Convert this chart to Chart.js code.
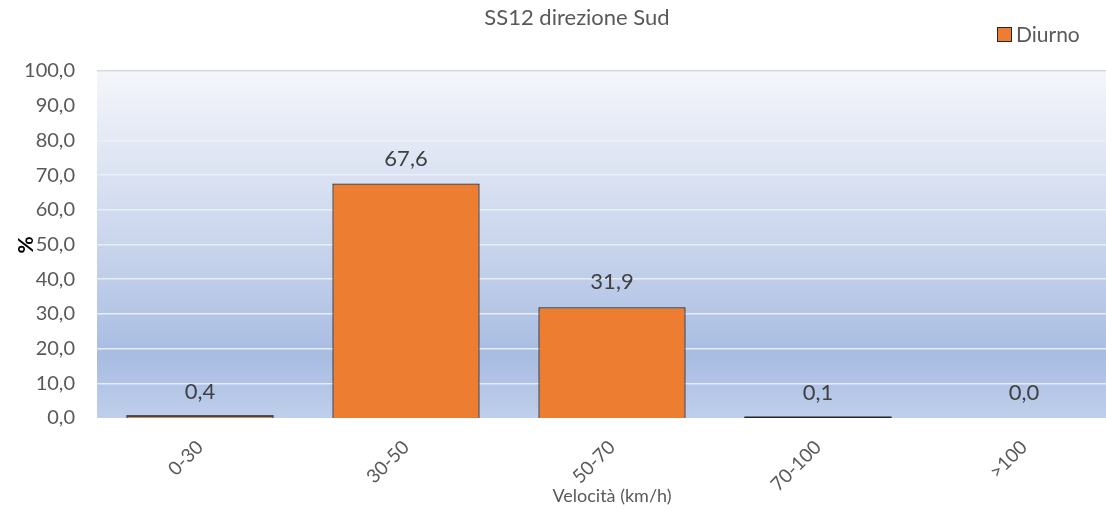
<!DOCTYPE html>
<html>
<head>
<meta charset="utf-8">
<script src="https://cdn.jsdelivr.net/npm/chart.js@4/dist/chart.umd.min.js"></script>
<style>
  html, body { margin: 0; padding: 0; background: #fff; overflow: hidden; }
  #wrap { width: 1106px; height: 511px; overflow: hidden; }
</style>
</head>
<body>
<div id="wrap"><canvas id="c" width="1128" height="511"></canvas></div>
<script>
'use strict';
const categories = ['0-30', '30-50', '50-70', '70-100', '>100'];
const diurno = [0.4, 67.6, 31.9, 0.1, 0.0];
const yTicks = [0, 10, 20, 30, 40, 50, 60, 70, 80, 90, 100];
const titleText = 'SS12 direzione Sud';
const seriesName = 'Diurno';
const FONT = 'Lato, "Open Sans", sans-serif';

function fmt(v) { return v.toFixed(1).replace('.', ','); }

// gradient plot background, drawn before the grid
const plotBg = {
  id: 'plotBg',
  beforeDraw(chart) {
    const { ctx, chartArea: a } = chart;
    const g = ctx.createLinearGradient(0, a.top, 0, a.bottom);
    g.addColorStop(0, '#f5f6fb');
    g.addColorStop(0.5, '#c9d5ec');
    g.addColorStop(0.82, '#a8bce2');
    g.addColorStop(1, '#bfcfeb');
    ctx.save();
    ctx.fillStyle = g;
    ctx.fillRect(a.left, a.top, a.right - a.left, a.bottom - a.top);
    ctx.restore();
  }
};

// title, legend, y title, value labels, tops of thin bars
const extras = {
  id: 'extras',
  afterDraw(chart) {
    const { ctx } = chart;
    ctx.save();
    ctx.textBaseline = 'middle';
    ctx.fillStyle = '#595959';
    ctx.font = '22px ' + FONT;
    ctx.textAlign = 'center';
    ctx.fillText(titleText, 577, 18);

    // legend
    ctx.fillStyle = '#ed7d31';
    ctx.strokeStyle = '#262626';
    ctx.lineWidth = 1;
    ctx.fillRect(997.5, 27.5, 14, 14);
    ctx.strokeRect(997.5, 27.5, 14, 14);
    ctx.fillStyle = '#595959';
    ctx.textAlign = 'left';
    ctx.font = '21px ' + FONT;
    ctx.fillText(seriesName, 1016, 35);

    // y axis title
    ctx.save();
    ctx.translate(26, 245);
    ctx.rotate(-Math.PI / 2);
    ctx.fillStyle = '#000';
    ctx.font = 'bold 21px ' + FONT;
    ctx.textAlign = 'center';
    ctx.fillText('%', 0, 0);
    ctx.restore();

    const meta = chart.getDatasetMeta(0);
    // dark top edge on bars too thin for their border
    ctx.strokeStyle = '#262626';
    ctx.lineWidth = 1.5;
    meta.data.forEach((bar, i) => {
      if (diurno[i] > 0 && diurno[i] < 1) {
        ctx.beginPath();
        ctx.moveTo(bar.x - bar.width / 2, bar.y - 0.5);
        ctx.lineTo(bar.x + bar.width / 2, bar.y - 0.5);
        ctx.stroke();
      }
    });

    // data labels
    ctx.fillStyle = '#404040';
    ctx.font = '22px ' + FONT;
    ctx.textAlign = 'center';
    meta.data.forEach((bar, i) => {
      ctx.fillText(fmt(diurno[i]), bar.x, bar.y - 25);
    });
    ctx.restore();
  }
};

new Chart(document.getElementById('c'), {
  type: 'bar',
  data: {
    labels: categories,
    datasets: [{
      label: seriesName,
      data: diurno,
      backgroundColor: '#ed7d31',
      borderColor: '#262626',
      borderWidth: 1.3,
      categoryPercentage: 0.715,
      barPercentage: 1
    }]
  },
  options: {
    responsive: false,
    animation: false,
    layout: { padding: { top: 71, right: 1, bottom: 4, left: 0 } },
    plugins: { legend: { display: false }, title: { display: false }, tooltip: { enabled: false } },
    scales: {
      x: {
        grid: { display: false },
        border: { display: false },
        ticks: {
          color: '#595959',
          font: { family: FONT, size: 19 },
          minRotation: 45, maxRotation: 45,
          padding: 10
        },
        title: {
          display: true,
          text: 'Velocità (km/h)',
          color: '#595959',
          font: { family: FONT, size: 18 },
          padding: { top: 0, bottom: 0 }
        },
        afterFit(s) { s.height = 89; }
      },
      y: {
        min: 0, max: 100,
        afterBuildTicks(s) { s.ticks = yTicks.map(v => ({ value: v })); },
        grid: {
          color: (c) => c.tick && c.tick.value === 100 ? '#d9d9d9' : 'rgba(236,239,246,0.9)',
          lineWidth: (c) => c.tick && c.tick.value === 0 ? 0 : 1.5,
          drawTicks: false
        },
        border: { display: false },
        ticks: {
          color: '#595959',
          font: { family: FONT, size: 20 },
          padding: 22,
          callback: (v) => fmt(v)
        },
        afterFit(s) { s.width = 97; }
      }
    }
  },
  plugins: [plotBg, extras]
});
</script>
</body>
</html>
